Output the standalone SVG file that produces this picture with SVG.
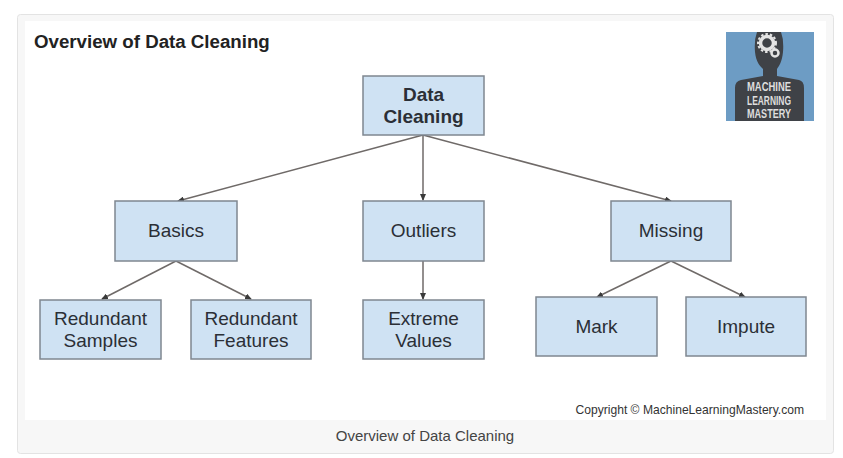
<svg xmlns="http://www.w3.org/2000/svg" width="843" height="458" viewBox="0 0 843 458">
<style>
text{font-family:"Liberation Sans",Arial,sans-serif;fill:#2b2f36}
.n rect{fill:#cfe2f3;stroke:#7f8790;stroke-width:1.5}
.n text{font-size:19px;text-anchor:middle}
.c line{stroke:#6f6a68;stroke-width:1.5;marker-end:url(#a)}
.l{font-size:12px;font-weight:700;text-anchor:middle;fill:#dedede}
</style>
<defs><marker id="a" markerUnits="userSpaceOnUse" markerWidth="7" markerHeight="6" refX="6" refY="3" orient="auto"><path d="M0 0L7 3L0 6Z" fill="#3a3a3a"/></marker></defs>
<rect width="843" height="458" fill="#fff"/>
<rect x="17.500" y="14.500" width="816" height="439" rx="3" fill="#f7f7f7" stroke="#e3e3e3"/>
<rect x="25" y="21" width="801" height="399" fill="#fff"/>
<text x="34" y="48" font-size="18.700" font-weight="700" style="fill:#222">Overview of Data Cleaning</text>
<g id="logo">
<rect x="726" y="32" width="88" height="89" fill="#6d9cc4"/>
<path d="M757 32H781Q784 40 783 52C782 62 779 66 777 69V76L799 80Q804 81 804 88V121H735V88Q735 81 741 80L763 76V69C760 66 756 62 755 52Q754 40 757 32Z" fill="#3f4247"/>
<circle cx="767" cy="43" r="6.500" fill="none" stroke="#e4e4e4" stroke-width="3.500"/>
<circle cx="767" cy="43" r="9" fill="none" stroke="#e4e4e4" stroke-width="2" stroke-dasharray="2.500 2"/>
<circle cx="775" cy="53" r="3.500" fill="none" stroke="#e4e4e4" stroke-width="2.500"/>
<text class="l" x="769" y="91" textLength="44" lengthAdjust="spacingAndGlyphs">MACHINE</text>
<text class="l" x="769" y="104.500" textLength="44" lengthAdjust="spacingAndGlyphs">LEARNING</text>
<text class="l" x="769" y="118" textLength="44" lengthAdjust="spacingAndGlyphs">MASTERY</text>
</g>
<g id="connectors" class="c">
<line x1="423" y1="135" x2="178" y2="201"/>
<line x1="423" y1="135" x2="423" y2="200"/>
<line x1="423" y1="135" x2="671" y2="201"/>
<line x1="176" y1="261" x2="102" y2="299"/>
<line x1="176" y1="261" x2="251" y2="299"/>
<line x1="423" y1="261" x2="423" y2="299"/>
<line x1="671" y1="261" x2="597" y2="297"/>
<line x1="671" y1="261" x2="745" y2="297"/>
</g>
<g id="data-cleaning" class="n"><rect x="363" y="76" width="121" height="59"/><text x="423.500" y="101" font-weight="700">Data</text><text x="423.500" y="123" font-weight="700">Cleaning</text></g>
<g id="basics" class="n"><rect x="115" y="201" width="122" height="60"/><text x="176" y="237">Basics</text></g>
<g id="outliers" class="n"><rect x="363" y="201" width="121" height="60"/><text x="423.500" y="237">Outliers</text></g>
<g id="missing" class="n"><rect x="611" y="201" width="120" height="60"/><text x="671" y="237">Missing</text></g>
<g id="redundant-samples" class="n"><rect x="40" y="300" width="121" height="59"/><text x="100.500" y="325">Redundant</text><text x="100.500" y="347">Samples</text></g>
<g id="redundant-features" class="n"><rect x="191" y="300" width="120" height="59"/><text x="251" y="325">Redundant</text><text x="251" y="347">Features</text></g>
<g id="extreme-values" class="n"><rect x="363" y="300" width="121" height="59"/><text x="423.500" y="325">Extreme</text><text x="423.500" y="347">Values</text></g>
<g id="mark" class="n"><rect x="536" y="297" width="121" height="59"/><text x="596.500" y="333">Mark</text></g>
<g id="impute" class="n"><rect x="686" y="297" width="120" height="59"/><text x="746" y="333">Impute</text></g>
<text x="804" y="414" font-size="12.100" text-anchor="end" style="fill:#333">Copyright © MachineLearningMastery.com</text>
<text x="425" y="441" font-size="15" text-anchor="middle" style="fill:#444">Overview of Data Cleaning</text>
</svg>
